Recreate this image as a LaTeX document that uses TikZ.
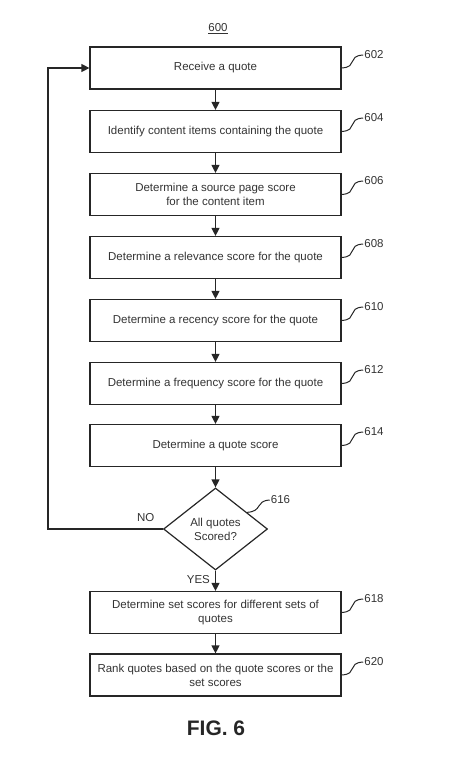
\documentclass[tikz,border=0pt]{standalone}
\usepackage{fontspec}
\setmainfont{Liberation Sans}
\usetikzlibrary{shapes.geometric,calc,arrows.meta}
\begin{document}
\begin{tikzpicture}[x=1pt,y=-1pt]
	\tikzset{
		stepbox/.style={draw=black!85,line width=1.2pt,minimum width=251pt,minimum height=42pt,align=center,font=\fontsize{11.5}{14}\selectfont,text=black!80},
		decision/.style={draw=black!85,diamond,line width=1.2pt,aspect=1.27,minimum width=104pt,minimum height=82pt,inner sep=0pt,align=center,font=\fontsize{11.5}{14}\selectfont,text=black!80},
		reflabel/.style={font=\fontsize{11.5}{14}\selectfont,text=black!80,inner sep=1pt},
		flow/.style={-{Triangle[length=8pt,width=8pt]},line width=1.2pt,black!85},
		squiggle/.style={line width=1pt,black!85},
	}
	\useasboundingbox (0,0) rectangle (456,759);
	\node[reflabel] (fig) at (218,29) {\underline{600}};

	\node[stepbox] (b602) at (215.5,68) {Receive a quote};
	\node[stepbox] (b604) at (215.5,131.5) {Identify content items containing the quote};
	\node[stepbox] (b606) at (215.5,194.5) {Determine a source page score\\for the content item};
	\node[stepbox] (b608) at (215.5,257.5) {Determine a relevance score for the quote};
	\node[stepbox] (b610) at (215.5,320.5) {Determine a recency score for the quote};
	\node[stepbox] (b612) at (215.5,383.5) {Determine a frequency score for the quote};
	\node[stepbox] (b614) at (215.5,445.5) {Determine a quote score};
	\node[decision] (d616) at (215.5,529) {All quotes\\Scored?};
	\node[stepbox] (b618) at (215.5,612.5) {Determine set scores for different sets of\\quotes};
	\node[stepbox] (b620) at (215.5,675) {Rank quotes based on the quote scores or the\\set scores};

	% reference numerals
	\foreach \n/\y in {602/55,604/118,606/181,608/244,610/307,612/370,614/432,618/599,620/662}
		\node[reflabel] (l\n) at (374,\y) {\n};
	\node[reflabel] (l616) at (280.5,500) {616};

	\foreach \n in {602,604,606,608,610,612,614,618,620}
		\draw[squiggle] (b\n.east) .. controls +(17,-1) and +(-17,1) .. (l\n.west);
	\draw[squiggle] ($(d616.north)!0.6!(d616.east)$) .. controls +(16,-1) and +(-15,1) .. (l616.west);

	% flow
	\draw[flow] (b602) -- (b604);
	\draw[flow] (b604) -- (b606);
	\draw[flow] (b606) -- (b608);
	\draw[flow] (b608) -- (b610);
	\draw[flow] (b610) -- (b612);
	\draw[flow] (b612) -- (b614);
	\draw[flow] (b614) -- (d616);
	\draw[flow] (d616) -- node[reflabel,left=4pt,pos=0.45] (yes) {YES} (b618);
	\draw[flow] (b618) -- (b620);
	\coordinate (loop) at (48,529);
	\draw[flow] (d616.west) -- node[reflabel,above=6pt,pos=0.15] (no) {NO} (loop) |- (b602.west);

	\node[font=\bfseries\fontsize{21}{24}\selectfont,text=black!85] (figlabel) at (216,728) {FIG. 6};
\end{tikzpicture}
\end{document}
